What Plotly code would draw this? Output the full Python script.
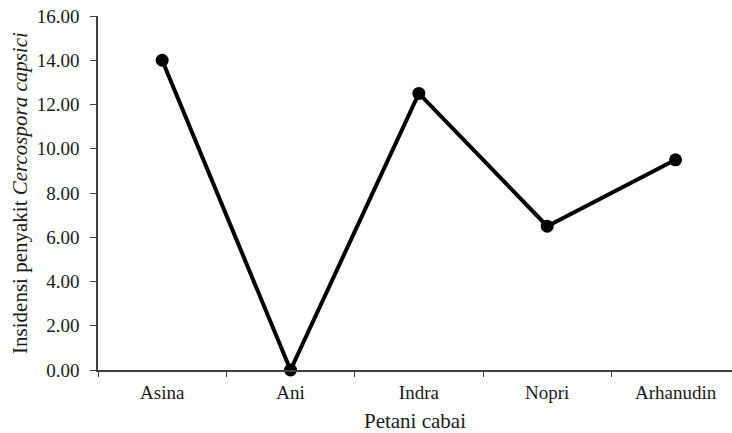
import plotly.graph_objects as go

categories = ["Asina", "Ani", "Indra", "Nopri", "Arhanudin"]
values = [14.0, 0.0, 12.5, 6.5, 9.5]
y_ticks = [0, 2, 4, 6, 8, 10, 12, 14, 16]
y_tick_labels = ["%.2f" % v for v in y_ticks]

fig = go.Figure()
fig.add_trace(go.Scatter(
    x=categories, y=values, mode="lines+markers",
    line=dict(color="black", width=4),
    marker=dict(color="black", size=13),
    cliponaxis=False, showlegend=False,
))

font = dict(family="Liberation Serif, Times New Roman, serif", color="#1a1a1a")
fig.update_layout(
    width=732, height=433,
    margin=dict(l=98, r=0, t=16, b=63),
    paper_bgcolor="white", plot_bgcolor="white",
    font=dict(size=19, **font),
    xaxis=dict(
        type="category", range=[-0.5, 4.44], automargin=False,
        showline=True, linecolor="#404040", linewidth=1.5,
        ticks="outside", tickson="boundaries", ticklen=5, tickcolor="#404040",
        showgrid=False, zeroline=False, ticklabelstandoff=4,
        tickfont=dict(size=19, **font),
        title=dict(text="Petani cabai", font=dict(size=21, **font), standoff=14),
    ),
    yaxis=dict(
        range=[0, 16], tickvals=y_ticks, ticktext=y_tick_labels, automargin=False,
        showline=True, linecolor="#404040", linewidth=1.5,
        ticks="outside", ticklen=6, tickcolor="#404040",
        showgrid=False, zeroline=False, ticklabelstandoff=7,
        tickfont=dict(size=19, **font),
        title=dict(text="Insidensi penyakit <i>Cercospora capsici</i>", font=dict(size=21, **font), standoff=3),
    ),
)
fig.write_html("out.html", config={"displayModeBar": False},
               post_script="document.body.style.margin='0';document.body.style.overflow='hidden';")
